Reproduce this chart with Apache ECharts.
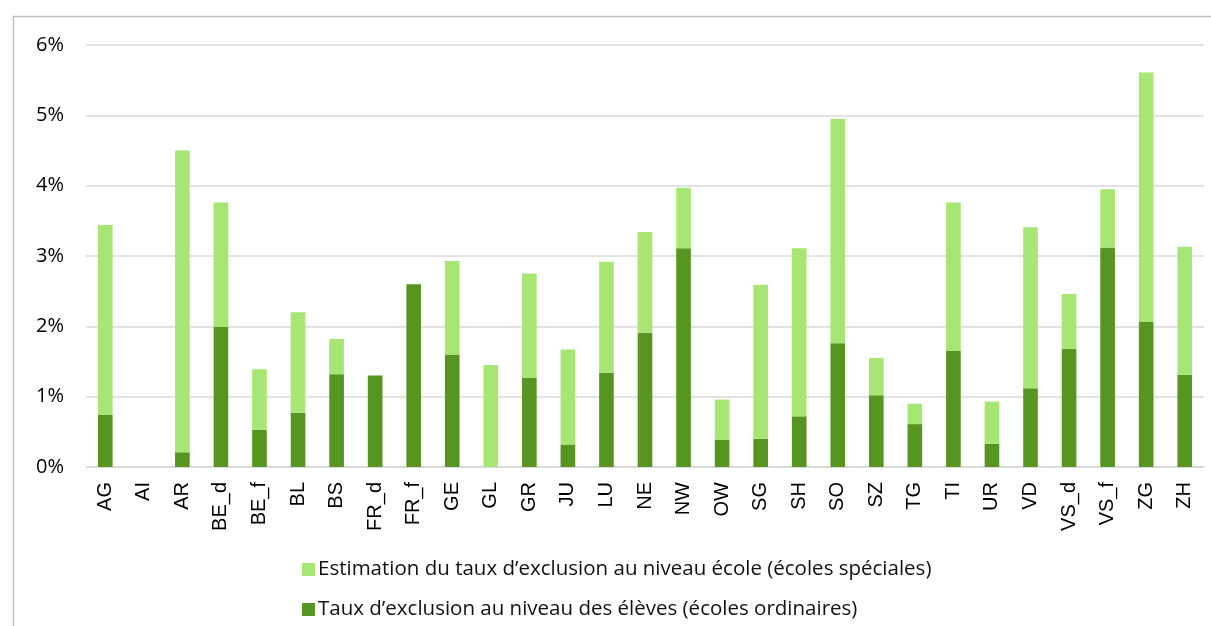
<!DOCTYPE html>
<html>
<head>
<meta charset="utf-8">
<script src="https://cdn.jsdelivr.net/npm/echarts@6/dist/echarts.min.js"></script>
<style>html,body{margin:0;padding:0;background:#fff}#c{width:1211px;height:626px}</style>
</head>
<body>
<div id="c"></div>
<script>
const categories = ['AG','AI','AR','BE_d','BE_f','BL','BS','FR_d','FR_f','GE','GL','GR','JU','LU','NE','NW','OW','SG','SH','SO','SZ','TG','TI','UR','VD','VS_d','VS_f','ZG','ZH'];
// Taux d'exclusion au niveau des élèves (écoles ordinaires), in %
const ordinaires = [0.74,0,0.21,1.99,0.53,0.77,1.32,1.30,2.60,1.60,0,1.27,0.32,1.34,1.91,3.11,0.39,0.40,0.72,1.76,1.02,0.61,1.65,0.33,1.12,1.68,3.12,2.06,1.31];
// Estimation du taux d'exclusion au niveau école (écoles spéciales), in %
const speciales = [2.70,0,4.29,1.77,0.86,1.43,0.50,0,0,1.33,1.45,1.48,1.35,1.58,1.43,0.86,0.57,2.19,2.39,3.19,0.53,0.29,2.11,0.60,2.29,0.78,0.83,3.55,1.82];
const yTicks = [0,1,2,3,4,5,6];
const nameOrd = 'Taux d\u2019exclusion au niveau des élèves (écoles ordinaires)';
const nameSpe = 'Estimation du taux d\u2019exclusion au niveau école (écoles spéciales)';

const chart = echarts.init(document.getElementById('c'), null, {renderer:'canvas'});
const font = 'Open Sans';
const legendBase = {
  orient:'horizontal', left:297, itemWidth:13, itemHeight:13,
  textStyle:{fontFamily:font,fontSize:20.5,color:'#111',padding:[0,0,0,-2]},
  icon:'rect', selectedMode:false
};
chart.setOption({
  animation:false,
  textStyle:{fontFamily:font},
  graphic:[{type:'rect',shape:{x:13.5,y:16.5,width:1400,height:800},style:{fill:'none',stroke:'#bfbfbf',lineWidth:1.5},silent:true}],
  grid:{left:86,right:7,top:45,bottom:159,containLabel:false},
  legend:[
    Object.assign({}, legendBase, {top:554, data:[nameSpe]}),
    Object.assign({}, legendBase, {top:594, data:[nameOrd]})
  ],
  xAxis:{
    type:'category', data:categories,
    axisLine:{lineStyle:{color:'#d9d9d9',width:1.5}},
    axisTick:{show:false},
    axisLabel:{rotate:90,fontSize:20,color:'#000',margin:15,interval:0,fontFamily:'Liberation Sans'}
  },
  yAxis:{
    type:'value', min:yTicks[0], max:yTicks[yTicks.length-1], interval:1,
    axisLine:{show:false}, axisTick:{show:false},
    splitLine:{lineStyle:{color:'#d9d9d9',width:1.5}},
    axisLabel:{formatter:'{value}%',fontSize:20,color:'#000',margin:22,fontFamily:font}
  },
  series:[
    {name:nameOrd,type:'bar',stack:'t',data:ordinaires,barWidth:'38%',itemStyle:{color:'#579521'}},
    {name:nameSpe,type:'bar',stack:'t',data:speciales,barWidth:'38%',itemStyle:{color:'#a8e673'}}
  ]
});
</script>
</body>
</html>
